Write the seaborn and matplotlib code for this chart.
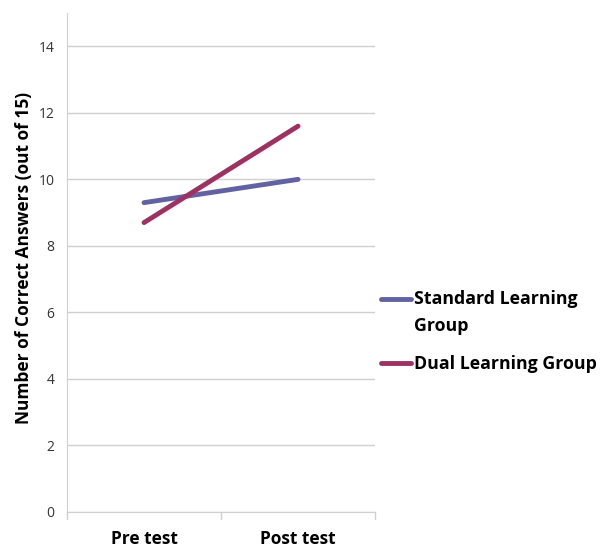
import pandas as pd
import seaborn as sns
import matplotlib.pyplot as plt

tests = ['Pre test', 'Post test']
standard = [9.3, 10.0]
dual = [8.7, 11.6]
groups = ['Standard Learning\nGroup', 'Dual Learning Group']
colors = ['#6262A2', '#9E3062']

df = pd.DataFrame({
    'test': tests * 2,
    'score': standard + dual,
    'group': [groups[0]] * 2 + [groups[1]] * 2,
})

sns.set_style('white')
plt.rcParams['font.family'] = ['Open Sans', 'DejaVu Sans']

fig = plt.figure(figsize=(6.01, 5.48), dpi=100)
ax = fig.add_axes([0.1115, 0.0657, 0.5125, 0.9105])

sns.lineplot(data=df, x='test', y='score', hue='group', palette=colors,
             linewidth=3.5, ax=ax, sort=False)

ax.set_xlim(-0.5, 1.5)
ax.set_ylim(0, 15)
ax.set_yticks(range(0, 15, 2))
ax.yaxis.grid(True, color='#d0d0d0', linewidth=1)
ax.set_axisbelow(True)
for s in ['top', 'right']:
    ax.spines[s].set_visible(False)
ax.spines['left'].set_color('#d0d0d0')
ax.spines['bottom'].set_color('#d0d0d0')
ax.set_xticks([0, 1])
ax.set_xticklabels(tests, fontsize=12.5, fontweight='bold', color='black')
ax.tick_params(axis='x', length=0, pad=13)
ax.tick_params(axis='y', labelsize=10, length=5, color='#d0d0d0', pad=4,
               labelcolor='#333333')
for xb in [-0.5, 0.5, 1.5]:
    ax.plot([xb, xb], [0, -0.2], color='#d0d0d0', lw=1, clip_on=False)
ax.set_xlabel('')
ax.set_ylabel('Number of Correct Answers (out of 15)', fontsize=12.5,
              fontweight='bold', color='black')
ax.yaxis.set_label_coords(-0.11, 0.51)

lsp = 1.6
leg = ax.legend(loc='upper left', bbox_to_anchor=(0.634, 0.47),
                bbox_transform=fig.transFigure, frameon=False,
                prop={'size': 12.8, 'weight': 'bold'}, handlelength=1.7,
                handletextpad=0.15, labelspacing=1.15, borderaxespad=0,
                borderpad=0)
for t in leg.get_texts():
    t.set_linespacing(lsp)
    t.set_color('black')
# align the first handle with the first line of its two-line label
h0 = leg.get_lines()[0]
h0.set_ydata([y + 0.5 * lsp * 12.8 for y in h0.get_ydata()])

fig.savefig('out.png', dpi=100)
